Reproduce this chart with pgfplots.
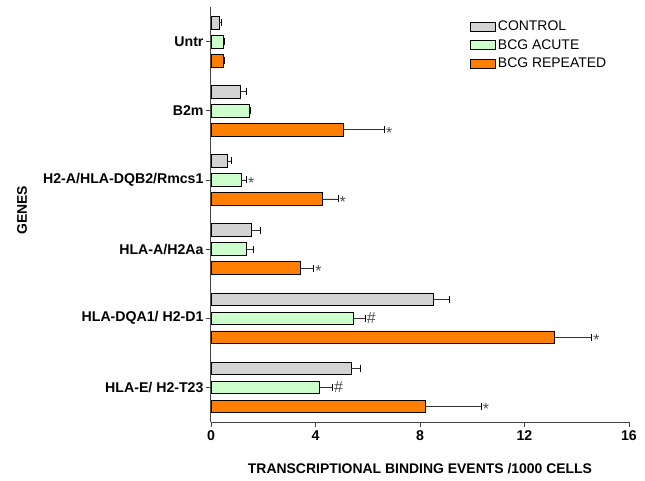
\documentclass[border=0pt]{standalone}
\usepackage{fontspec}
\setmainfont{Liberation Sans}
\usepackage{pgfplots}
\pgfplotsset{compat=1.18}

\definecolor{ctrl}{RGB}{211,211,211}
\definecolor{acute}{RGB}{204,255,204}
\definecolor{rep}{RGB}{255,128,0}

\pgfplotsset{errx/.style={
    error bars/x dir=plus, error bars/x explicit,
    error bars/error bar style={black!80, line width=0.7pt},
    error bars/error mark options={rotate=90, mark size=3.5bp, line width=0.8pt, black}},
  signif/.style={xbar=false, draw=none, mark=none, forget plot,
    nodes near coords, point meta=explicit symbolic,
    nodes near coords style={anchor=west, inner sep=1.5bp,
        font=\fontsize{16}{16}\selectfont, text=black!70, #1}}}

\begin{document}
\begin{tikzpicture}
\begin{axis}[
    at={(0,0)}, anchor=south west,
    scale only axis,
    width=418bp, height=415bp,
    xmin=0, xmax=16,
    ymin=-0.5, ymax=5.5,
    y dir=reverse,
    axis x line=bottom, axis y line=left,
    axis line style={-, line width=1pt, black!75},
    xtick={0,4,8,12,16},
    ytick={0,1,2,3,4,5},
    yticklabels={Untr, B2m, H2-A/HLA-DQB2/Rmcs1, HLA-A/H2Aa, HLA-DQA1/ H2-D1, HLA-E/ H2-T23},
    tick align=outside,
    major tick length=5bp,
    tick style={black!75, line width=0.8pt},
    /pgf/number format/assume math mode=true,
    ticklabel style={font=\fontsize{14.2}{16}\selectfont\bfseries},
    yticklabel style={xshift=1bp},
    xlabel={TRANSCRIPTIONAL BINDING EVENTS /1000 CELLS},
    ylabel={GENES},
    label style={font=\fontsize{14}{16}\selectfont\bfseries},
    xlabel style={at={(axis description cs:0.5,-0.113)}, anchor=center},
    ylabel style={at={(axis description cs:-0.452,0.51)}, anchor=center},
    xbar, bar width=12.7bp, bar shift=0pt,
    clip=false,
    legend style={at={(axis description cs:0.62,0.972)}, anchor=north west,
        draw=none, fill=none, font=\fontsize{14}{16}\selectfont,
        row sep=3.5bp, inner sep=0pt,
        /tikz/every even column/.append style={column sep=2bp}},
    legend cell align=left,
    legend image code/.code={\draw[#1] (0bp,-4.5bp) rectangle (25bp,4.5bp);},
]
% CONTROL
\addplot[draw=black, fill=ctrl, line width=0.6pt, errx] coordinates {
    (0.32,-0.275) +- (0.06,0)
    (1.13,0.725)  +- (0.21,0)
    (0.61,1.725)  +- (0.19,0)
    (1.54,2.725)  +- (0.34,0)
    (8.51,3.725)  +- (0.60,0)
    (5.36,4.725)  +- (0.36,0)
};
\addlegendentry{CONTROL}
% BCG ACUTE
\addplot[draw=black, fill=acute, line width=0.6pt, errx] coordinates {
    (0.46,0) +- (0.05,0)
    (1.45,1) +- (0.05,0)
    (1.16,2) +- (0.20,0)
    (1.36,3) +- (0.28,0)
    (5.46,4) +- (0.44,0)
    (4.14,5) +- (0.51,0)
};
\addlegendentry{BCG ACUTE}
% BCG REPEATED
\addplot[draw=black, fill=rep, line width=0.6pt, errx] coordinates {
    (0.47,0.275)  +- (0.05,0)
    (5.05,1.275)  +- (1.59,0)
    (4.26,2.275)  +- (0.60,0)
    (3.40,3.275)  +- (0.53,0)
    (13.15,4.275) +- (1.42,0)
    (8.20,5.275)  +- (2.14,0)
};
\addlegendentry{BCG REPEATED}
% significance marks
\addplot[signif={yshift=-3bp}] coordinates {
    (6.64,1.275) [*]
    (1.36,2.0) [*]
    (4.86,2.275) [*]
    (3.93,3.275) [*]
    (14.57,4.275) [*]
    (10.34,5.275) [*]
};
\addplot[signif={}] coordinates {
    (5.90,4.0) [\#]
    (4.65,5.0) [\#]
};
\end{axis}
\useasboundingbox (-211bp,-59bp) rectangle (434bp,422bp);
\end{tikzpicture}
\end{document}
